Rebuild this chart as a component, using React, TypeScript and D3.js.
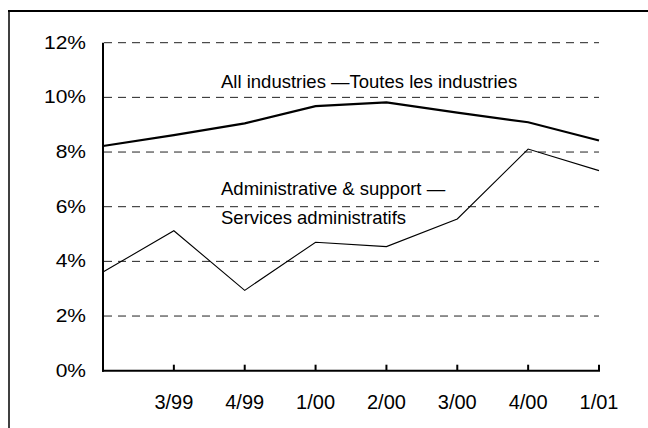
import React from "react";
import * as d3 from "d3";

const quarterLabels = ["", "3/99", "4/99", "1/00", "2/00", "3/00", "4/00", "1/01"];
const allIndustries = [8.22, 8.62, 9.05, 9.68, 9.82, 9.44, 9.09, 8.42];
const adminSupport = [3.61, 5.12, 2.94, 4.7, 4.54, 5.55, 8.11, 7.32];
const yTicks = [0, 2, 4, 6, 8, 10, 12];
const labelAll = "All industries \u2014Toutes les industries";
const labelAdmin1 = "Administrative & support \u2014";
const labelAdmin2 = "Services administratifs";

const W = 648;
const H = 428;
const FONT = "'Liberation Sans', Arial, Helvetica, sans-serif";

export default function App() {
  const idx = quarterLabels.map((_, i) => i);
  const x = d3.scalePoint<number>().domain(idx).range([103, 599]);
  const y = d3.scaleLinear().domain([0, 12]).range([370.7, 42.7]);
  const line = d3
    .line<number>()
    .x((_, i) => x(i) as number)
    .y((d) => y(d));

  return (
    <svg
      width={W}
      height={H}
      style={{ position: "absolute", left: 0, top: 0, background: "#fff" }}
      fontFamily={FONT}
    >
      <rect x={0} y={0} width={W} height={H} fill="#fff" />
      {/* frame */}
      <line x1={8} x2={W} y1={11} y2={11} stroke="#000" strokeWidth={2} />
      <line x1={9} x2={9} y1={10} y2={H} stroke="#000" strokeWidth={1.5} />

      {/* gridlines */}
      {yTicks
        .filter((t) => t > 0)
        .map((t) => (
          <line
            key={"g" + t}
            x1={104}
            x2={599}
            y1={y(t)}
            y2={y(t)}
            stroke="#222"
            strokeWidth={1}
            strokeDasharray="8,6"
          />
        ))}

      {/* y labels */}
      {yTicks.map((t) => (
        <text
          key={"yl" + t}
          transform={`translate(86,${y(t)}) scale(1.2,1)`}
          textAnchor="end"
          dominantBaseline="central"
          fontSize={17.5}
          fill="#000"
        >
          {t + "%"}
        </text>
      ))}

      {/* axes */}
      <line x1={103} x2={103} y1={y(12)} y2={y(0) + 1} stroke="#000" strokeWidth={2} />
      <line x1={102} x2={600} y1={y(0)} y2={y(0)} stroke="#000" strokeWidth={2} />
      {idx
        .filter((i) => i > 0)
        .map((i) => (
          <line
            key={"t" + i}
            x1={x(i)}
            x2={x(i)}
            y1={y(0)}
            y2={y(0) - 6}
            stroke="#000"
            strokeWidth={2}
          />
        ))}

      {/* x labels */}
      {idx
        .filter((i) => quarterLabels[i] !== "")
        .map((i) => (
          <text
            key={"xl" + i}
            x={x(i)}
            y={409}
            textAnchor="middle"
            fontSize={20}
            fill="#000"
          >
            {quarterLabels[i]}
          </text>
        ))}

      {/* series */}
      <path d={line(adminSupport) || ""} fill="none" stroke="#000" strokeWidth={1.1} />
      <path d={line(allIndustries) || ""} fill="none" stroke="#000" strokeWidth={2.2} />

      {/* annotations */}
      <text x={221} y={88.3} fontSize={18.5} fill="#000">
        {labelAll}
      </text>
      <text x={221} y={195} fontSize={18.5} fill="#000">
        {labelAdmin1}
      </text>
      <text x={221} y={223.5} fontSize={18.5} fill="#000">
        {labelAdmin2}
      </text>
    </svg>
  );
}
